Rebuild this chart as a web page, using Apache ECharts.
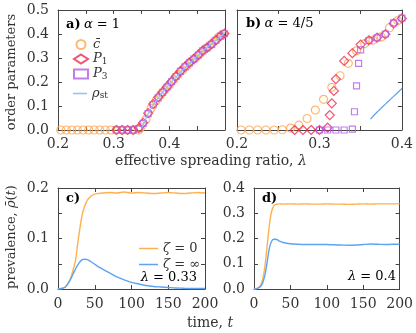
<!DOCTYPE html>
<html>
<head>
<meta charset="utf-8">
<script src="https://cdn.jsdelivr.net/npm/echarts@6/dist/echarts.min.js"></script>
<style>
html, body { margin: 0; padding: 0; background: #fff; }
#main { width: 416px; height: 333px; }
</style>
</head>
<body>
<div id="main"></div>
<script>
// ---- panel a) alpha = 1 ----
var lamA_cbar = [0.205,0.215,0.225,0.235,0.245,0.255,0.265,0.275,0.285,0.295,0.305,0.315,0.325,0.335,0.345,
  0.349,0.358,0.367,0.376,0.384,0.392,0.400,0.408,0.416,0.424,0.432,0.440,0.448,0.456,0.464,0.472,0.480,0.488,0.496];
var cbarA = [0,0,0,0,0,0,0,0,0,0,0,0,0,0,0,
  0.010,0.045,0.090,0.122,0.146,0.168,0.188,0.210,0.232,0.250,0.268,0.286,0.302,0.320,0.337,0.352,0.369,0.386,0.399];
var lamA_P = [0.305,0.315,0.325,0.335,0.345,0.353,0.362,0.371,0.380,0.388,0.396,0.404,0.412,0.420,0.428,0.436,0.444,0.452,0.460,0.468,0.476,0.484,0.492,0.499];
var p1A = [0,0,0,0,0.008,0.030,0.070,0.108,0.136,0.158,0.180,0.202,0.224,0.245,0.264,0.281,0.296,0.313,0.331,0.343,0.358,0.375,0.392,0.402];
var p3A = [0,0,0,0,0.006,0.028,0.068,0.106,0.134,0.157,0.179,0.201,0.223,0.244,0.263,0.280,0.295,0.312,0.330,0.342,0.357,0.374,0.391,0.401];
var lamA_rho = [0.350,0.360,0.370,0.380,0.390,0.400,0.420,0.440,0.460,0.480,0.500];
var rhoA = [0.005,0.058,0.100,0.133,0.163,0.190,0.240,0.285,0.328,0.367,0.405];

// ---- panel b) alpha = 4/5 ----
var lamB_cbar = [0.205,0.215,0.225,0.235,0.245,0.255,0.265,0.275,0.285,0.295,0.305,0.315,0.325,0.335,0.345,0.355,0.365,0.375,0.385,0.395];
var cbarB = [0,0,0,0,0,0.001,0.008,0.020,0.048,0.083,0.128,0.178,0.226,0.278,0.330,0.360,0.375,0.388,0.426,0.456];
var lamB_p1 = [0.27,0.28,0.29,0.30,0.31,0.3125,0.315,0.3175,0.32,0.33,0.34,0.35,0.36,0.37,0.38,0.39,0.40];
var p1B = [0,0,0,0,0.010,0.062,0.111,0.163,0.212,0.288,0.320,0.356,0.374,0.385,0.399,0.444,0.465];
var lamB_p3 = [0.30,0.31,0.32,0.33,0.34,0.3425,0.345,0.3475,0.35,0.36,0.37,0.38,0.39,0.40];
var p3B = [0,0,0,0,0.004,0.076,0.184,0.278,0.334,0.372,0.384,0.400,0.446,0.466];
var lamB_rho = [0.362,0.370,0.380,0.390,0.400];
var rhoB = [0.045,0.075,0.108,0.140,0.173];

// ---- panel c) lambda = 0.33 ----
var tC = [0,5,10,15,18,21,24,27,30,33,36,40,45,50,55,60,70,80,90,100,110,120,130,140,150,160,170,180,190,200];
var zeta0C = [0,0.001,0.004,0.014,0.025,0.040,0.058,0.092,0.122,0.148,0.163,0.176,0.184,0.188,0.189,0.190,0.191,0.190,0.192,0.190,0.191,0.190,0.189,0.190,0.191,0.190,0.189,0.190,0.191,0.190];
var zetaInfC = [0,0.001,0.004,0.014,0.022,0.031,0.040,0.048,0.054,0.058,0.059,0.058,0.054,0.049,0.044,0.040,0.032,0.024,0.018,0.013,0.010,0.007,0.005,0.004,0.003,0.002,0.0015,0.001,0.001,0.001];

// ---- panel d) lambda = 0.4 ----
var tD = [0,3,6,9,12,15,18,21,24,27,30,35,40,50,60,70,80,90,100,110,120,130,140,150,160,170,180,190,200];
var zeta0D = [0,0.001,0.005,0.015,0.040,0.090,0.170,0.250,0.305,0.328,0.335,0.337,0.336,0.337,0.336,0.337,0.336,0.336,0.337,0.336,0.336,0.335,0.336,0.337,0.336,0.337,0.337,0.337,0.338];
var zetaInfD = [0,0.001,0.004,0.010,0.025,0.055,0.105,0.160,0.188,0.197,0.197,0.190,0.184,0.179,0.177,0.176,0.176,0.176,0.176,0.175,0.174,0.173,0.174,0.176,0.178,0.177,0.176,0.177,0.177];

var ORANGE = '#ffa64d', RED = '#f0284e', PURPLE = '#b35ce6', BLUE = '#5ca3f2';
var FONT = 'DejaVu Serif', TXT = '#333', FRAME = '#444';

function zip(xs, ys) { return xs.map(function (x, i) { return [x, ys[i]]; }); }
function tenth(v) { return Math.abs(v * 10 - Math.round(v * 10)) < 1e-6; }

function axis(grid, pos, min, max, interval, fmt, margin) {
  return {
    type: 'value', gridIndex: grid, position: pos, min: min, max: max, interval: interval,
    axisLine: { show: true, onZero: false, lineStyle: { color: FRAME, width: 1 } },
    axisTick: { show: true, inside: true, length: 4, lineStyle: { color: FRAME } },
    axisLabel: { show: !!fmt, formatter: fmt, margin: margin || 8, color: TXT, fontFamily: FONT, fontSize: 14 },
    splitLine: { show: false }
  };
}

var fmtXA = function (v) { return tenth(v) && v < 0.45 ? v.toFixed(1) : ''; };
var fmtXB = function (v) { return tenth(v) ? v.toFixed(1) : ''; };
var fmtY1 = function (v) { return tenth(v) ? v.toFixed(1) : ''; };
var fmtT = function (v) { return String(v); };

function scatter(name, sym, size, color, xi, yi, data) {
  return {
    name: name, type: 'scatter', xAxisIndex: xi, yAxisIndex: yi, symbol: sym, symbolSize: size,
    itemStyle: { color: 'rgba(255,255,255,0)', borderColor: color, borderWidth: 1.2 },
    data: data
  };
}
function line(name, color, xi, yi, data, w) {
  return {
    name: name, type: 'line', xAxisIndex: xi, yAxisIndex: yi, symbol: 'none', smooth: 0.3,
    lineStyle: { color: color, width: w || 1.4 }, itemStyle: { color: color },
    data: data
  };
}

var rich = {
  i: { fontStyle: 'italic', fontFamily: FONT, fontSize: 13, color: TXT, lineHeight: 14 },
  b: { fontWeight: 'bold', fontFamily: FONT, fontSize: 13, color: TXT, lineHeight: 14 },
  s: { fontFamily: FONT, fontSize: 9, color: TXT, verticalAlign: 'bottom', lineHeight: 14, padding: [4, 0, 0, 0] },
  n: { fontFamily: FONT, fontSize: 13, color: TXT, lineHeight: 14 }
};
var legendNames = {
  cbar: '{i|c\u0304}', P1: '{i|P}{s|1}', P3: '{i|P}{s|3}', rho: '{i|\u03c1}{s|st}',
  z0: '{i|\u03b6}{n| = 0}', zinf: '{i|\u03b6}{n| = \u221e}'
};
function legend(names, left, top, w, h, gap, icon) {
  return {
    data: names, orient: 'vertical', left: left, top: top, icon: icon,
    itemWidth: w, itemHeight: h, itemGap: gap, selectedMode: false,
    formatter: function (n) { return legendNames[n]; },
    textStyle: { rich: rich, fontFamily: FONT, fontSize: 13, color: TXT }
  };
}

var chart = echarts.init(document.getElementById('main'), null, { renderer: 'canvas' });
chart.setOption({
  animation: false,
  backgroundColor: '#fff',
  textStyle: { fontFamily: FONT },
  grid: [
    { left: 58, top: 10, width: 167, height: 120 },
    { left: 237, top: 10, width: 166, height: 120 },
    { left: 58, top: 188, width: 147, height: 101 },
    { left: 254, top: 188, width: 148, height: 101 }
  ],
  xAxis: [
    axis(0, 'bottom', 0.2, 0.5, 0.05, fmtXA, 7), axis(0, 'top', 0.2, 0.5, 0.05),
    axis(1, 'bottom', 0.2, 0.4, 0.05, fmtXB, 7), axis(1, 'top', 0.2, 0.4, 0.05),
    axis(2, 'bottom', 0, 200, 50, fmtT, 8), axis(2, 'top', 0, 200, 50),
    axis(3, 'bottom', 0, 200, 50, fmtT, 8), axis(3, 'top', 0, 200, 50)
  ],
  yAxis: [
    axis(0, 'left', 0, 0.5, 0.1, fmtY1, 9), axis(0, 'right', 0, 0.5, 0.1),
    axis(1, 'left', 0, 0.5, 0.1), axis(1, 'right', 0, 0.5, 0.1),
    axis(2, 'left', 0, 0.2, 0.05, fmtY1, 9), axis(2, 'right', 0, 0.2, 0.05),
    axis(3, 'left', 0, 0.4, 0.1, fmtY1, 9), axis(3, 'right', 0, 0.4, 0.1)
  ],
  legend: [
    legend(['cbar', 'P1', 'P3'], 68, 33, 14, 9, 1.5),
    legend(['rho'], 68, 82, 14, 1.5, 0, 'rect'),
    legend(['z0', 'zinf'], 134, 237, 19, 1.5, 3, 'rect')
  ],
  series: [
    scatter('cbar', 'circle', 8, ORANGE, 0, 0, zip(lamA_cbar, cbarA)),
    line('rho', '#8fc0f2', 0, 0, zip(lamA_rho, rhoA), 1.2),
    scatter('P1', 'diamond', 9, RED, 0, 0, zip(lamA_P, p1A)),
    scatter('P3', 'rect', 6, PURPLE, 0, 0, zip(lamA_P, p3A)),

    scatter('cbar', 'circle', 8, ORANGE, 2, 2, zip(lamB_cbar, cbarB)),
    scatter('P1', 'diamond', 9, RED, 2, 2, zip(lamB_p1, p1B)),
    scatter('P3', 'rect', 6, PURPLE, 2, 2, zip(lamB_p3, p3B)),
    line('rho', BLUE, 2, 2, zip(lamB_rho, rhoB), 1.2),

    line('z0', '#ffb04f', 4, 4, zip(tC, zeta0C)),
    line('zinf', BLUE, 4, 4, zip(tC, zetaInfC)),
    line('z0', '#ffb04f', 6, 6, zip(tD, zeta0D)),
    line('zinf', BLUE, 6, 6, zip(tD, zetaInfD))
  ],
  graphic: [
    { type: 'text', left: 66, top: 18, style: { text: '{b|a)} {i|\u03b1}{n| = 1}', rich: rich } },
    { type: 'text', left: 246, top: 17, style: { text: '{b|b)} {i|\u03b1}{n| = 4/5}', rich: rich } },
    { type: 'text', left: 66, top: 192, style: { text: '{b|c)}', rich: rich } },
    { type: 'text', left: 262, top: 192, style: { text: '{b|d)}', rich: rich } },
    { type: 'text', x: 197, y: 278, style: { text: '{i|\u03bb}{n| = 0.33}', rich: rich, align: 'right', verticalAlign: 'middle' } },
    { type: 'text', x: 396, y: 277, style: { text: '{i|\u03bb}{n| = 0.4}', rich: rich, align: 'right', verticalAlign: 'middle' } },
    { type: 'text', x: 211, y: 161, style: { text: 'effective spreading ratio, {i|\u03bb}', rich: { i: { fontStyle: 'italic', fontFamily: FONT, fontSize: 14, color: TXT } }, font: '14px "DejaVu Serif"', fill: TXT, align: 'center', verticalAlign: 'middle' } },
    { type: 'text', x: 210, y: 323, style: { text: 'time, {i|t}', rich: { i: { fontStyle: 'italic', fontFamily: FONT, fontSize: 14, color: TXT } }, font: '14px "DejaVu Serif"', fill: TXT, align: 'center', verticalAlign: 'middle' } },
    { type: 'text', x: 12, y: 72, rotation: Math.PI / 2, style: { text: 'order parameters', font: '13px "DejaVu Serif"', fill: TXT, align: 'center', verticalAlign: 'middle' } },
    { type: 'text', x: 12, y: 237, rotation: Math.PI / 2, style: { text: 'prevalence, {i|\u03c1\u0304}({i|t})', rich: { i: { fontStyle: 'italic', fontFamily: FONT, fontSize: 13, color: TXT } }, font: '13px "DejaVu Serif"', fill: TXT, align: 'center', verticalAlign: 'middle' } }
  ]
});
</script>
</body>
</html>
